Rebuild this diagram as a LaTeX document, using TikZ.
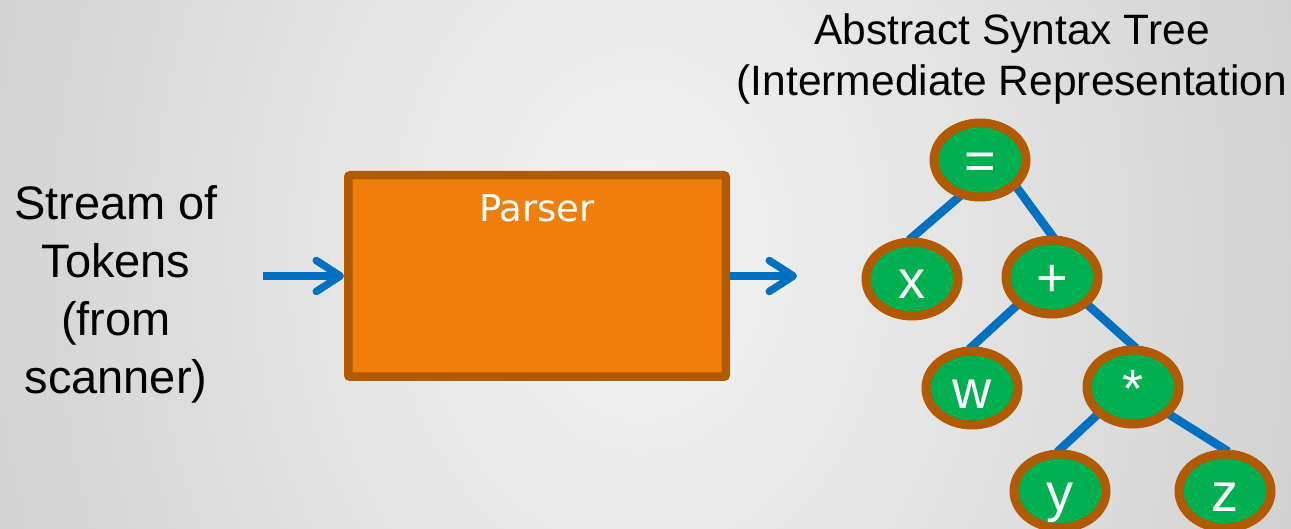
\documentclass[tikz,border=0pt]{standalone}
\usepackage{fontspec}
\setmainfont{Liberation Sans}
\newfontfamily\parserfont{DejaVu Sans}
\usetikzlibrary{arrows.meta,shapes.geometric}

\definecolor{nodegreen}{HTML}{00B050}
\definecolor{rim}{HTML}{B15A00}
\definecolor{boxorange}{HTML}{EF7F0A}
\definecolor{edgeblue}{HTML}{0070C0}
\definecolor{bgin}{HTML}{F4F4F4}
\definecolor{bgout}{HTML}{D2D2D2}

% pgf maps the central 50bp square of a shading onto the path, so the
% outer colour is reached at 25bp
\pgfdeclareradialshading{backdrop}{\pgfpoint{0bp}{0bp}}%
  {color(0bp)=(bgin); color(25bp)=(bgout); color(50bp)=(bgout)}

\pgfdeclarelayer{back}
\pgfdeclarelayer{links}
\pgfsetlayers{back,links,main}

\tikzset{
  tnode/.style={ellipse, draw=rim, line width=9pt, fill=nodegreen,
    minimum width=92pt, minimum height=74pt, inner sep=0pt, text=white,
    font=\fontsize{54}{54}\selectfont, text height=40pt, text depth=0pt},
  link/.style={draw=edgeblue, line width=8.5pt, shorten <=-4pt, shorten >=-4pt},
  flow/.style={draw=edgeblue, line width=7.5pt,
    -{Straight Barb[length=24pt, width=31pt, round]}},
  caption/.style={font=\fontsize{47}{58}\selectfont, align=center, inner sep=0pt},
  heading/.style={font=\fontsize{42.5}{51}\selectfont, align=center, inner sep=0pt},
  stage/.style={rectangle, draw=rim, fill=boxorange, line width=8.5pt,
    rounded corners=2pt, inner sep=0pt}
}

\begin{document}
\begin{tikzpicture}[x=1pt,y=-1pt]
\useasboundingbox (0,0) rectangle (1291,529);

% soft grey backdrop
\begin{pgfonlayer}{back}
  \fill[bgout] (0,0) rectangle (1291,529);
  \begin{scope}
    \clip (0,0) rectangle (1291,529);
    \shade[shading=backdrop] (640,250) ellipse [x radius=680pt, y radius=900pt];
  \end{scope}
\end{pgfonlayer}

% input label
\node[caption] (stream) at (116,294) {Stream of\\Tokens\\(from\\scanner)};

% parser stage
\node[stage, minimum width=377.5pt, minimum height=201.5pt] (parser) at (537,276) {};
\node[anchor=base, inner sep=0pt, text=white, font=\parserfont\fontsize{37}{37}\selectfont]
  (parsertitle) at (537,222) {Parser};

\coordinate (src) at (263,276);
\coordinate (dst) at (797,276);
\draw[flow] (src) -- (parser.west);
\draw[flow] (parser.east) -- (dst);

% output heading
\node[heading] (asttitle) at (1012,59.5) {Abstract Syntax Tree\\(Intermediate Representation};

% the tree
\node[tnode] (eq)   at (980,160)  {=};
\node[tnode] (xv)   at (912,279)  {x};
\node[tnode] (plus) at (1052,277) {+};
\node[tnode] (wv)   at (972,388)  {w};
\node[tnode] (star) at (1133,387) {*};
\node[tnode] (yv)   at (1060,491) {y};
\node[tnode] (zv)   at (1225,491) {z};

\begin{pgfonlayer}{links}
  \draw[link] (eq.-120)   -- (xv.north);
  \draw[link] (eq.-37)    -- (plus.north);
  \draw[link] (plus.-141) -- (wv.north);
  \draw[link] (plus.-38)  -- (star.north);
  \draw[link] (star.-142) -- (yv.north);
  \draw[link] (star.-37)  -- (zv.north);
\end{pgfonlayer}
\end{tikzpicture}
\end{document}
